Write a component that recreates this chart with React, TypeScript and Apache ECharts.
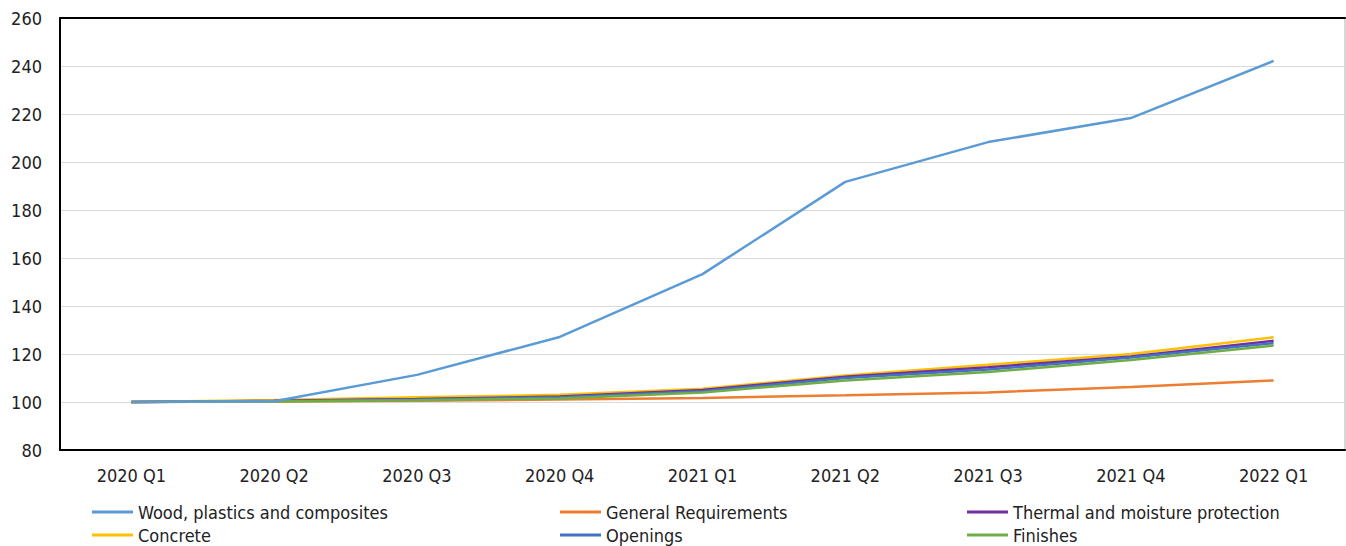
import React, { useEffect, useRef } from "react";
import * as echarts from "echarts";

const categories = ["2020 Q1", "2020 Q2", "2020 Q3", "2020 Q4", "2021 Q1", "2021 Q2", "2021 Q3", "2021 Q4", "2022 Q1"];
const wood = [100, 100.3, 111.3, 127.1, 153.3, 191.7, 208.3, 218.3, 242.1];
const generalReq = [100, 100.2, 100.5, 101, 101.7, 102.8, 104, 106.2, 109];
const thermal = [100, 100.5, 101.2, 102.3, 105, 110.5, 114.5, 119, 125.5];
const concrete = [100, 100.8, 102, 103, 105.5, 111, 115.5, 120, 127];
const openings = [100, 100.4, 101, 102, 104.5, 110, 113.5, 118.5, 124.5];
const finishes = [100, 100.2, 100.7, 101.5, 104, 109, 112.5, 117.5, 123.5];

const FONT = "'Liberation Sans Narrow', 'DejaVu Sans Condensed', 'Roboto', sans-serif";

export default function App() {
  const ref = useRef<HTMLDivElement>(null);
  useEffect(() => {
    const chart = echarts.init(ref.current!, null, { renderer: "svg" });
    const mk = (name: string, data: number[], color: string, z: number) => ({
      name,
      type: "line",
      data,
      symbol: "none",
      z,
      lineStyle: { color, width: 2.5 },
      itemStyle: { color },
    });
    const legendCommon = {
      orient: "vertical",
      icon: "rect",
      itemWidth: 41,
      itemHeight: 3,
      itemGap: 5,
      textStyle: { fontFamily: FONT, fontSize: 18, color: "#222" },
      padding: 0,
    };
    chart.setOption({
      animation: false,
      backgroundColor: "#fff",
      grid: { left: 60, right: 1, top: 18, bottom: 96, show: true, borderColor: "#b0b0b0", borderWidth: 1 },
      xAxis: [
        {
          type: "category",
          data: categories,
          boundaryGap: true,
          axisLine: { lineStyle: { color: "#000", width: 2 } },
          axisTick: { inside: true, length: 7, lineStyle: { color: "#000" } },
          axisLabel: { fontFamily: FONT, fontSize: 18, color: "#222", margin: 16 },
        },
        {
          type: "category",
          data: categories,
          position: "top",
          axisLine: { show: true, lineStyle: { color: "#000", width: 2 } },
          axisTick: { show: false },
          axisLabel: { show: false },
        },
      ],
      yAxis: {
        type: "value",
        min: 80,
        max: 260,
        interval: 20,
        axisLine: { show: true, lineStyle: { color: "#000", width: 2 } },
        axisTick: { show: false },
        splitLine: { lineStyle: { color: "#d9d9d9", width: 1 } },
        axisLabel: { fontFamily: FONT, fontSize: 18, color: "#222", margin: 18 },
      },
      legend: [
        { ...legendCommon, left: 92, top: 503, data: ["Wood, plastics and composites", "Concrete"] },
        { ...legendCommon, left: 560, top: 503, data: ["General Requirements", "Openings"] },
        { ...legendCommon, left: 967, top: 503, data: ["Thermal and moisture protection", "Finishes"] },
      ],
      series: [
        mk("Wood, plastics and composites", wood, "#5b9bd5", 6),
        mk("General Requirements", generalReq, "#ed7d31", 5),
        mk("Thermal and moisture protection", thermal, "#7030a0", 3),
        mk("Concrete", concrete, "#ffc000", 2),
        mk("Openings", openings, "#4472c4", 4),
        mk("Finishes", finishes, "#70ad47", 5),
      ],
    });
    return () => chart.dispose();
  }, []);
  return <div ref={ref} style={{ position: "fixed", left: 0, top: 0, width: 1346, height: 546 }} />;
}
